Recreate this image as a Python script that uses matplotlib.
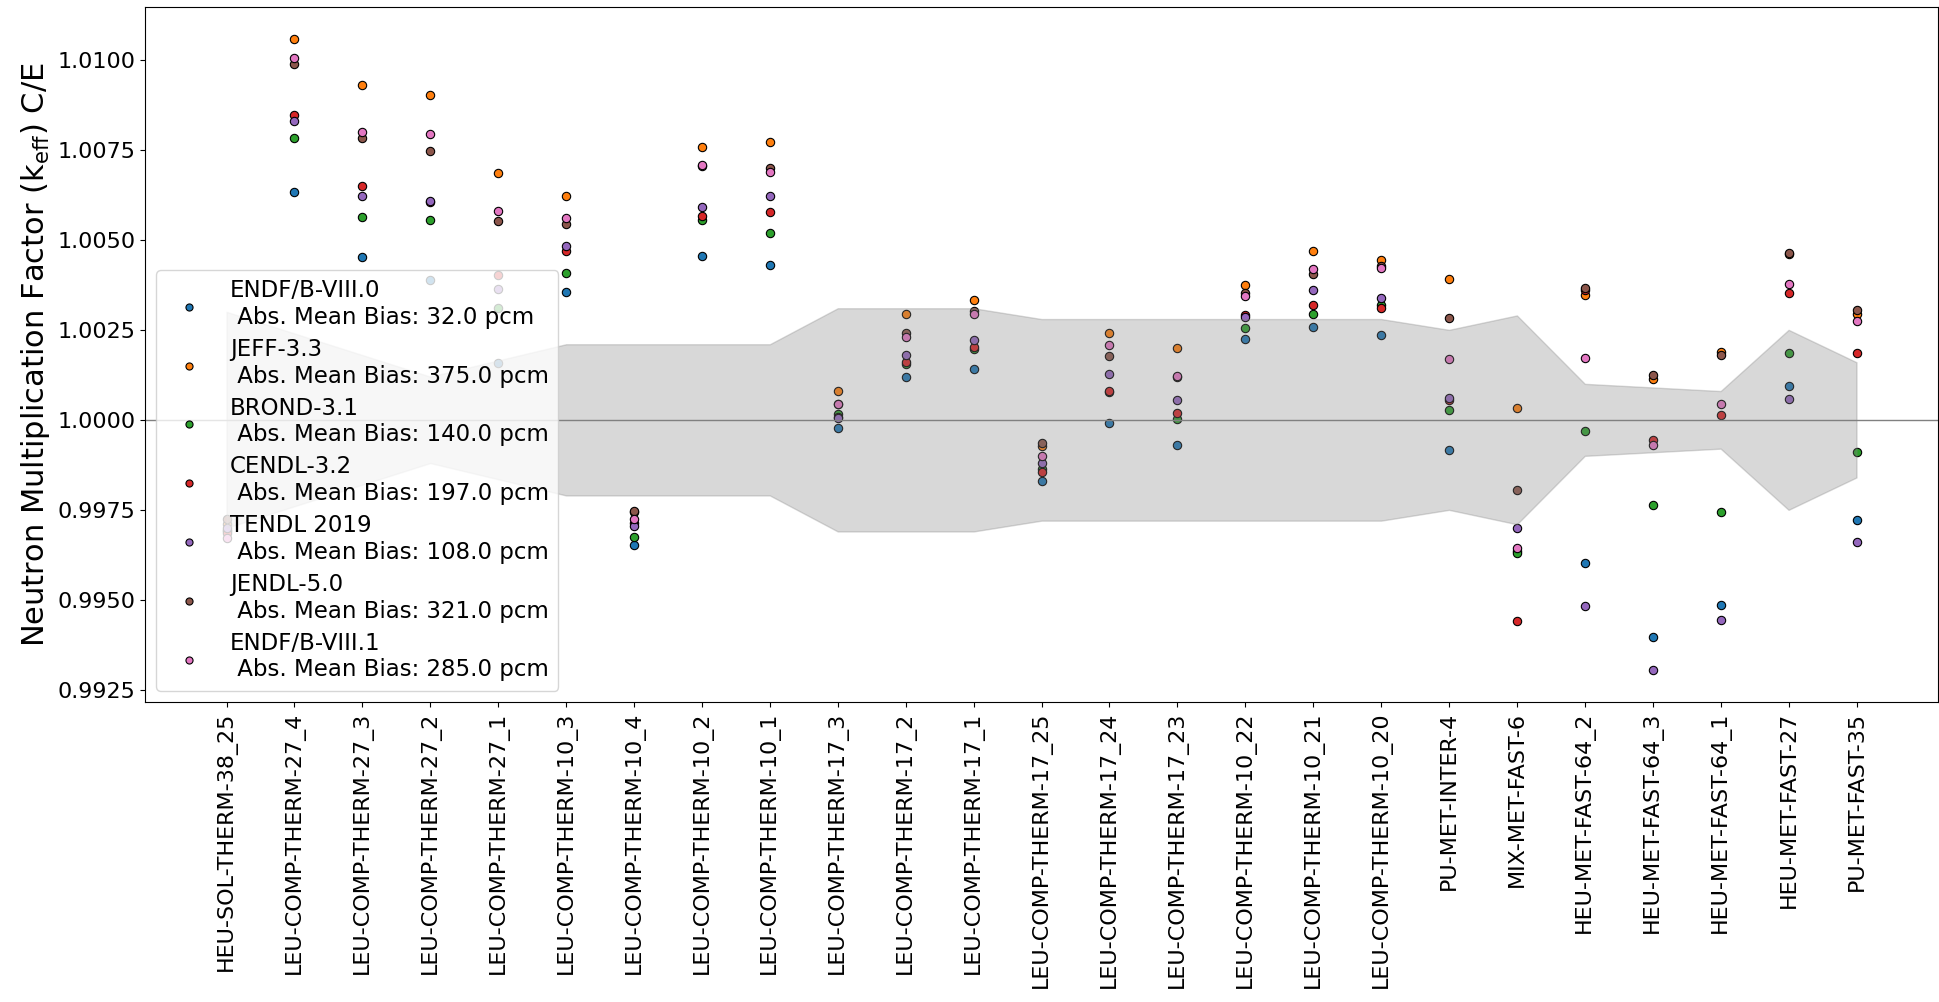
import matplotlib
matplotlib.use("Agg")
import matplotlib.pyplot as plt
from matplotlib.ticker import MultipleLocator, FormatStrFormatter
import numpy as np

benchmarks = [
    "HEU-SOL-THERM-38_25",
    "LEU-COMP-THERM-27_4",
    "LEU-COMP-THERM-27_3",
    "LEU-COMP-THERM-27_2",
    "LEU-COMP-THERM-27_1",
    "LEU-COMP-THERM-10_3",
    "LEU-COMP-THERM-10_4",
    "LEU-COMP-THERM-10_2",
    "LEU-COMP-THERM-10_1",
    "LEU-COMP-THERM-17_3",
    "LEU-COMP-THERM-17_2",
    "LEU-COMP-THERM-17_1",
    "LEU-COMP-THERM-17_25",
    "LEU-COMP-THERM-17_24",
    "LEU-COMP-THERM-17_23",
    "LEU-COMP-THERM-10_22",
    "LEU-COMP-THERM-10_21",
    "LEU-COMP-THERM-10_20",
    "PU-MET-INTER-4",
    "MIX-MET-FAST-6",
    "HEU-MET-FAST-64_2",
    "HEU-MET-FAST-64_3",
    "HEU-MET-FAST-64_1",
    "HEU-MET-FAST-27",
    "PU-MET-FAST-35",
]

libraries = ["ENDF/B-VIII.0", "JEFF-3.3", "BROND-3.1", "CENDL-3.2",
             "TENDL 2019", "JENDL-5.0", "ENDF/B-VIII.1"]
abs_mean_bias_pcm = [32.0, 375.0, 140.0, 197.0, 108.0, 321.0, 285.0]

# C/E values per library, same order as benchmarks
endf_b_viii_0 = [0.99690, 1.00632, 1.00453, 1.00389, 1.00157, 1.00354, 0.99653,
                 1.00456, 1.00431, 0.99977, 1.00119, 1.00140, 0.99831, 0.99992,
                 0.99929, 1.00224, 1.00258, 1.00237, 0.99916, 0.99635, 0.99601,
                 0.99397, 0.99487, 1.00093, 0.99721]
jeff_3_3 = [0.99712, 1.01059, 1.00931, 1.00903, 1.00686, 1.00621, 0.99745,
            1.00757, 1.00771, 1.00081, 1.00294, 1.00334, 0.99928, 1.00242,
            1.00199, 1.00375, 1.00470, 1.00443, 1.00392, 1.00032, 1.00346,
            1.00113, 1.00188, 1.00460, 1.00293]
brond_3_1 = [0.99695, 1.00782, 1.00563, 1.00555, 1.00310, 1.00408, 0.99674,
             1.00555, 1.00518, 1.00017, 1.00155, 1.00196, 0.99863, 1.00077,
             1.00001, 1.00256, 1.00294, 1.00319, 1.00026, 0.99631, 0.99970,
             0.99763, 0.99744, 1.00185, 0.99911]
cendl_3_2 = [0.99686, 1.00847, 1.00650, 1.00605, 1.00402, 1.00468, 0.99714,
             1.00567, 1.00577, 1.00008, 1.00162, 1.00201, 0.99855, 1.00081,
             1.00019, 1.00292, 1.00319, 1.00311, 1.00056, 0.99441, 1.00362,
             0.99944, 1.00013, 1.00351, 1.00185]
tendl_2019 = [0.99700, 1.00831, 1.00622, 1.00608, 1.00364, 1.00483, 0.99705,
              1.00590, 1.00621, 1.00006, 1.00181, 1.00222, 0.99881, 1.00127,
              1.00054, 1.00286, 1.00360, 1.00339, 1.00062, 0.99699, 0.99483,
              0.99304, 0.99445, 1.00057, 0.99661]
jendl_5_0 = [0.99725, 1.00988, 1.00783, 1.00746, 1.00552, 1.00544, 0.99747,
             1.00706, 1.00699, 1.00043, 1.00241, 1.00301, 0.99935, 1.00178,
             1.00120, 1.00352, 1.00404, 1.00428, 1.00284, 0.99804, 1.00365,
             1.00124, 1.00179, 1.00464, 1.00304]
endf_b_viii_1 = [0.99671, 1.01005, 1.00800, 1.00795, 1.00580, 1.00561, 0.99724,
                 1.00709, 1.00689, 1.00044, 1.00230, 1.00294, 0.99900, 1.00209,
                 1.00121, 1.00344, 1.00419, 1.00421, 1.00169, 0.99643, 1.00173,
                 0.99931, 1.00043, 1.00377, 1.00274]

# experimental 1-sigma uncertainty on k_eff
exp_uncertainty = [0.0030, 0.0024, 0.0018, 0.0012, 0.00165, 0.0021, 0.0021,
                   0.0021, 0.0021, 0.0031, 0.0031, 0.0031, 0.0028, 0.0028,
                   0.0028, 0.0028, 0.0028, 0.0028, 0.0025, 0.0029, 0.0010,
                   0.0009, 0.0008, 0.0025, 0.0016]

results = [endf_b_viii_0, jeff_3_3, brond_3_1, cendl_3_2,
           tendl_2019, jendl_5_0, endf_b_viii_1]
colors = [f"C{i}" for i in range(len(libraries))]

fig = plt.figure(figsize=(19.39, 10.02), dpi=100)
ax = fig.add_axes([145 / 1939, 1 - 702 / 1002, (1938 - 145) / 1939, (702 - 7) / 1002])

x = np.arange(len(benchmarks))
for name, values, bias, color in zip(libraries, results, abs_mean_bias_pcm, colors):
    ax.scatter(x, values, s=36, color=color, edgecolors="k", linewidths=0.8,
               label=f"{name}\n Abs. Mean Bias: {bias:.1f} pcm")

# experimental band drawn over the points
unc = np.array(exp_uncertainty)
ax.fill_between(x, 1 - unc, 1 + unc, color="gray", alpha=0.3)
ax.axhline(1.0, color="gray", linewidth=1)

ax.set_xticks(x)
ax.set_xticklabels(benchmarks, rotation=90, fontsize=16)
ax.yaxis.set_major_locator(MultipleLocator(0.0025))
ax.yaxis.set_major_formatter(FormatStrFormatter("%.4f"))
ax.tick_params(axis="y", labelsize=16)
ax.set_ylabel(r"Neutron Multiplication Factor (k$_{\mathrm{eff}}$) C/E", fontsize=22)
ax.legend(loc="lower left", fontsize=16.5, labelspacing=0.4, markerscale=0.85)

fig.savefig("out.png", dpi=100)
plt.close(fig)
